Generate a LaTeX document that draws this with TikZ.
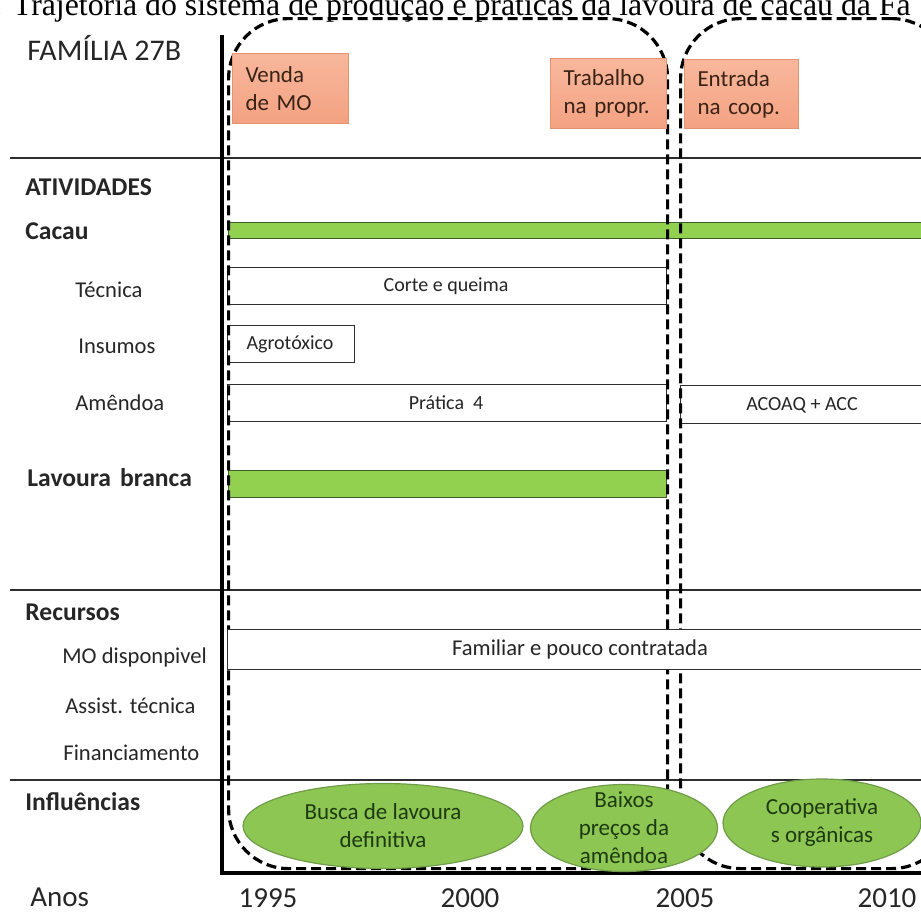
\documentclass[tikz,border=0pt]{standalone}
\usepackage{fontspec}
\setmainfont{Carlito}
\newfontfamily\serifcap{Liberation Serif}
\usetikzlibrary{shapes.geometric}

\definecolor{ink}{HTML}{262626}
\definecolor{barfill}{HTML}{92D050}
\definecolor{barline}{HTML}{3E5C2A}
\definecolor{orangetop}{HTML}{F8B79C}
\definecolor{orangebot}{HTML}{F3A282}
\definecolor{orangeline}{HTML}{E59473}
\definecolor{orangetext}{HTML}{3A2216}
\definecolor{ellfill}{HTML}{8DC653}
\definecolor{elline}{HTML}{6E9C48}
\definecolor{elltext}{HTML}{1E3A10}
\definecolor{gridline}{HTML}{2E2E2E}

\begin{document}
\begin{tikzpicture}[x=0.5pt,y=-0.5pt,
  rowhead/.style={anchor=west, inner sep=0pt, text=ink, font=\fontsize{12.8}{15}\selectfont\bfseries},
  rowsub/.style={anchor=west, inner sep=0pt, text=ink, font=\fontsize{11.3}{14}\selectfont},
  yearlab/.style={inner sep=0pt, text=ink, font=\fontsize{14.5}{17}\selectfont},
  sep/.style={draw=gridline, line width=0.8pt},
  axisline/.style={draw=black, line width=1.8pt},
  span/.style={draw=gridline, line width=0.7pt, fill=white, inner sep=0pt, anchor=north west},
  spantext/.style={inner sep=0pt, text=ink, font=\fontsize{10}{12}\selectfont},
  bar/.style={draw=barline, line width=0.7pt, fill=barfill, inner sep=0pt, anchor=north west},
  period/.style={draw=black, line width=1.6pt, dash pattern=on 5pt off 2.5pt, rounded corners=30pt, inner sep=0pt, anchor=north west},
  event/.style={draw=orangeline, line width=0.5pt, top color=orangetop, bottom color=orangebot, text=orangetext, anchor=north west, align=left, inner xsep=6.5pt, inner ysep=0pt, font=\fontsize{11.5}{14}\selectfont},
  influence/.style={ellipse, draw=elline, line width=0.6pt, fill=ellfill, inner sep=0pt},
  inftext/.style={inner sep=0pt, align=center, text=elltext, font=\fontsize{11.5}{14}\selectfont}
]
\useasboundingbox (0,0) rectangle (921,911);
\clip (0,0) rectangle (921,911);

% caption line running across the top edge
\node[anchor=base west, inner sep=0pt, font=\serifcap\fontsize{15.9}{18}\selectfont, text=black] (caption) at (-6,15)
  {. Trajetória do sistema de produção e práticas da lavoura de cacau da Fa};

% row labels
\node[anchor=west, inner sep=0pt, text=ink, font=\fontsize{15}{18}\selectfont] (familia) at (27,48) {FAMÍLIA 27B};
\node[rowhead] (atividades) at (25,187) {ATIVIDADES};
\node[rowhead] (cacau) at (25,231) {Cacau};
\node[rowsub] (tecnica) at (75,290) {Técnica};
\node[rowsub] (insumos) at (78,346) {Insumos};
\node[rowsub] (amendoa) at (75,403) {Amêndoa};
\node[rowhead] (lavoura) at (27,478) {Lavoura\hspace{0.35em}branca};
\node[rowhead] (recursos) at (25,612) {Recursos};
\node[rowsub] (mo) at (62,657) {MO disponpivel};
\node[rowsub] (assist) at (65,706) {Assist. técnica};
\node[rowsub] (financ) at (63,753) {Financiamento};
\node[rowhead] (influencias) at (25,802) {Influências};
\node[anchor=west, inner sep=0pt, text=ink, font=\fontsize{14.5}{17}\selectfont] (anos) at (30,897) {Anos};

% section separators
\coordinate (s1l) at (10,158); \coordinate (s1r) at (930,158);
\coordinate (s2l) at (10,590); \coordinate (s2r) at (930,590);
\coordinate (s3l) at (10,780); \coordinate (s3r) at (930,780);
\draw[sep] (s1l) -- (s1r);
\draw[sep] (s2l) -- (s2r);
\draw[sep] (s3l) -- (s3r);

% activity spans (under the dashed periods)
\node[bar, minimum width=353.5pt, minimum height=8pt] (barcacau) at (228,222) {};
\node[span, minimum width=219.5pt, minimum height=18.5pt] (corte) at (227,267) {};
\node[spantext] (cortetxt) at (446,286) {Corte e queima};
\node[span, minimum width=63.5pt, minimum height=18.5pt] (agro) at (227,325) {};
\node[spantext] (agrotxt) at (290,344) {Agrotóxico};
\node[span, minimum width=219.5pt, minimum height=18.5pt] (pratica) at (227,384) {};
\node[spantext] (praticatxt) at (446,403) {Prática\hspace{0.45em}4};
\node[span, minimum width=127.5pt, minimum height=19pt] (acoaq) at (680,385) {};
\node[spantext] (acoaqtxt) at (802,405) {ACOAQ + ACC};
\node[bar, minimum width=219pt, minimum height=13.5pt] (barlavoura) at (228,470) {};

% dashed periods
\node[period, minimum width=219.5pt, minimum height=425pt] (periodA) at (227,17) {};
\node[period, minimum width=135.5pt, minimum height=425pt] (periodB) at (679,17) {};

% labour span lies over the periods
\node[span, minimum width=354pt, minimum height=20pt] (familiar) at (227,629) {};
\node[spantext, font=\fontsize{11.3}{14}\selectfont] (familiartxt) at (580,649) {Familiar e pouco contratada};

% time axis
\coordinate (axtop) at (222,35);
\coordinate (origin) at (222,873);
\coordinate (axend) at (930,873);
\draw[axisline] (axtop) -- (origin) -- (axend);

% events
\node[event, text width=45pt, minimum height=35pt] (venda) at (232,53) {Venda\\de MO};
\node[event, text width=45pt, minimum height=35pt] (trabalho) at (550,58) {Trabalho\\na propr.};
\node[event, text width=44pt, minimum height=34.5pt] (entrada) at (684,59) {Entrada\\na coop.};

% influences
\node[influence, minimum width=140pt, minimum height=42.5pt] (busca) at (383,826) {};
\node[inftext] (buscatxt) at (busca.center) {Busca de lavoura\\definitiva};
\node[influence, minimum width=93.5pt, minimum height=43.5pt] (baixos) at (624,828) {};
\node[inftext] (baixostxt) at (baixos.center) {Baixos\\preços da\\amêndoa};
\node[influence, minimum width=99pt, minimum height=44pt] (coop) at (822,823) {};
\node[inftext] (cooptxt) at (coop.center) {Cooperativa\\s orgânicas};

% years
\node[yearlab] (y1995) at (268,898) {1995};
\node[yearlab] (y2000) at (470,898) {2000};
\node[yearlab] (y2005) at (685,898) {2005};
\node[yearlab] (y2010) at (887,898) {2010};
\end{tikzpicture}
\end{document}
